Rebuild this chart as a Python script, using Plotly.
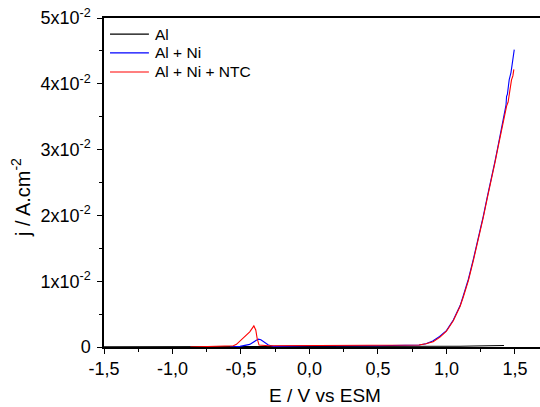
import plotly.graph_objects as go

# Potentiodynamic curves: potential E (V vs ESM) and current density j (A/cm^2)
al_E = [-1.50, -1.00, -0.50, 0.00, 0.50, 0.90, 1.10, 1.20, 1.30, 1.42]
al_j = [0.00003, 0.00003, 0.00003, 0.00003, 0.00003, 0.00006, 0.00012, 0.00016, 0.00020, 0.00022]

alni_E = [-0.58, -0.507, -0.436, -0.40, -0.374, -0.355, -0.337, -0.30, -0.263, 0.00, 0.50,
          0.80, 0.85, 0.90, 0.95, 1.00, 1.05, 1.075, 1.10, 1.123, 1.16, 1.196, 1.233, 1.269, 1.30,
          1.33, 1.355, 1.378, 1.40, 1.427, 1.435, 1.439, 1.445, 1.458, 1.471, 1.48, 1.495]
alni_j = [0.0, 0.0001, 0.0004, 0.0008, 0.0012, 0.0011, 0.0008, 0.0003, 0.0001, 0.0002, 0.0002,
          0.0003, 0.0005, 0.0009, 0.0016, 0.0025, 0.0041, 0.0051, 0.0063, 0.0078, 0.0103, 0.0133, 0.0165, 0.0199, 0.0230,
          0.0257, 0.0283, 0.0307, 0.0330, 0.0358, 0.0368, 0.0381, 0.0384, 0.0406, 0.0417, 0.0430, 0.0452]

alnintc_E = [-0.87, -0.60, -0.556, -0.533, -0.484, -0.436, -0.406, -0.392, -0.382, -0.368, -0.30,
             0.00, 0.50, 0.80, 0.85, 0.903, 0.953, 1.00, 1.05, 1.075, 1.10, 1.123, 1.16, 1.196, 1.233, 1.269,
             1.30, 1.33, 1.355, 1.378, 1.40, 1.427, 1.439, 1.45, 1.463, 1.475, 1.485, 1.492]
alnintc_j = [0.0, 0.0001, 0.0002, 0.0004, 0.0013, 0.0023, 0.0032, 0.0026, 0.0013, 0.0003, 0.0002,
             0.0002, 0.0002, 0.0003, 0.0005, 0.0008, 0.0015, 0.0024, 0.0040, 0.0050, 0.0062, 0.0076, 0.0101, 0.0131, 0.0163, 0.0197,
             0.0228, 0.0255, 0.0281, 0.0305, 0.0328, 0.0356, 0.0366, 0.0372, 0.0391, 0.0406, 0.0412, 0.0422]

series_names = ["Al", "Al + Ni", "Al + Ni + NTC"]
series_colors = ["black", "#0000ff", "#ff0000"]

x_ticks = [-1.5, -1.0, -0.5, 0.0, 0.5, 1.0, 1.5]
x_tick_text = ["-1,5", "-1,0", "-0,5", "0,0", "0,5", "1,0", "1,5"]
y_ticks = [0.0, 0.01, 0.02, 0.03, 0.04, 0.05]
y_tick_text = ["0", "1x10<sup>-2</sup>", "2x10<sup>-2</sup>", "3x10<sup>-2</sup>",
               "4x10<sup>-2</sup>", "5x10<sup>-2</sup>"]

FONT = "Liberation Sans, Arial, sans-serif"

fig = go.Figure()
for E, j, name, color in [(al_E, al_j, series_names[0], series_colors[0]),
                          (alni_E, alni_j, series_names[1], series_colors[1]),
                          (alnintc_E, alnintc_j, series_names[2], series_colors[2])]:
    fig.add_trace(go.Scatter(x=E, y=j, mode="lines", name=name, showlegend=False,
                             line=dict(color=color, width=1.1)))

# Compact legend box in the upper-left corner of the plot
legend_rows_y = [0.951, 0.894, 0.836]
shapes = []
annotations = []
for name, color, ly in zip(series_names, series_colors, legend_rows_y):
    shapes.append(dict(type="line", xref="paper", yref="paper",
                       x0=0.0138, x1=0.103, y0=ly, y1=ly,
                       line=dict(color=color, width=1.1)))
    annotations.append(dict(text=name, xref="paper", yref="paper", x=0.1124, y=ly,
                            xanchor="left", yanchor="middle", showarrow=False,
                            font=dict(size=15.5, family=FONT)))

annotations += [
    dict(text="E / V vs ESM", xref="paper", yref="paper", x=0.507, y=-0.146,
         xanchor="center", yanchor="middle", showarrow=False,
         font=dict(size=19, family=FONT)),
    dict(text="j / A.cm<sup>-2</sup>", xref="paper", yref="paper", x=-0.19, y=0.453,
         xanchor="center", yanchor="middle", textangle=-90, showarrow=False,
         font=dict(size=20, family=FONT)),
]

fig.update_layout(
    width=540, height=407,
    margin=dict(l=104, r=0, t=18, b=60),
    paper_bgcolor="white", plot_bgcolor="white",
    font=dict(family=FONT, size=18, color="black"),
    showlegend=False,
    xaxis=dict(range=[-1.5, 1.683], tickvals=x_ticks, ticktext=x_tick_text,
               showline=True, linecolor="black", linewidth=1.5, mirror=True,
               ticks="outside", ticklen=5, tickwidth=1.2, tickcolor="black",
               minor=dict(dtick=0.25, tick0=0, ticks="outside", ticklen=3,
                          tickwidth=1.2, tickcolor="black", showgrid=False),
               showgrid=False, zeroline=False,
               tickfont=dict(size=18, family=FONT)),
    yaxis=dict(range=[0, 0.05], tickvals=y_ticks, ticktext=y_tick_text,
               showline=True, linecolor="black", linewidth=1.5, mirror=False,
               ticks="outside", ticklen=5, tickwidth=1.2, tickcolor="black",
               minor=dict(dtick=0.005, tick0=0, ticks="outside", ticklen=3,
                          tickwidth=1.2, tickcolor="black", showgrid=False),
               showgrid=False, zeroline=False, ticklabelstandoff=3,
               tickfont=dict(size=18, family=FONT)),
    shapes=shapes,
    annotations=annotations,
)

fig.write_html("out.html")
